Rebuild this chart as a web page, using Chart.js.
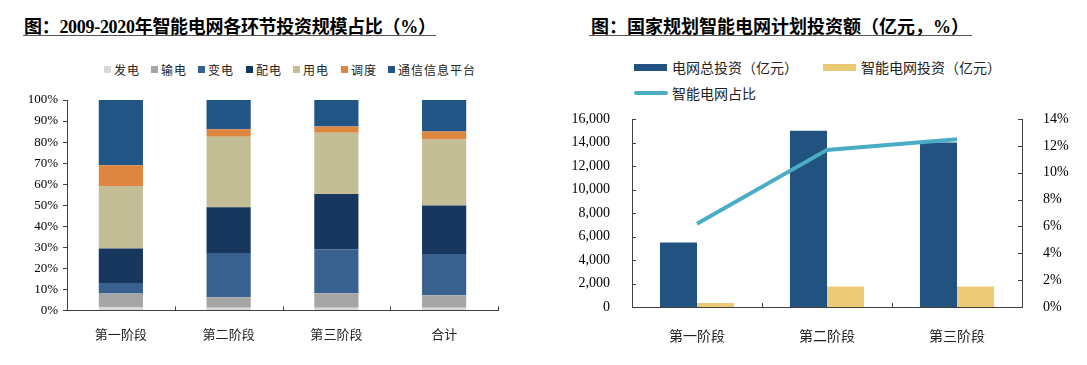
<!DOCTYPE html>
<html>
<head>
<meta charset="utf-8">
<script src="https://cdn.jsdelivr.net/npm/chart.js@4.4.1/dist/chart.umd.min.js"></script>
<style>
  html, body { margin: 0; padding: 0; background: #fff; }
  body { width: 1087px; height: 365px; position: relative; overflow: hidden; font-family: "Liberation Serif", "Noto Sans CJK SC", serif; }
  .title { position: absolute; font-size: 18px; font-weight: bold; color: #000; line-height: 16px; height: 16px; border-bottom: 1.5px solid #555; white-space: nowrap; font-family: "Liberation Serif", "Noto Sans CJK SC", serif; }
  .legend { position: absolute; font-family: "Noto Sans CJK SC", sans-serif; color: #222; white-space: nowrap; }
  .legend .item { position: absolute; display: flex; align-items: center; }
  .sw { display: inline-block; }
  canvas { position: absolute; }
</style>
</head>
<body>
<div class="title" id="t1" style="left:23px; top:19px; padding-left:1px; padding-right:0px; letter-spacing:-0.3px;">图：2009-2020年智能电网各环节投资规模占比（%）</div>
<div class="title" id="t2" style="left:589px; top:19px; padding-left:2px; padding-right:3px;">图：国家规划智能电网计划投资额（亿元，%）</div>
<div class="legend" id="leg1" style="left:0; top:61px; font-size:12px; letter-spacing:1px;"></div>
<div class="legend" id="leg2" style="left:0; top:0; font-size:14px;"></div>
<canvas id="c1" width="540" height="255" style="left:0; top:90px;"></canvas>
<canvas id="c2" width="527" height="240" style="left:560px; top:105px;"></canvas>
<script>
// ---------- Data: left chart ----------
const stageCategories = ['第一阶段', '第二阶段', '第三阶段', '合计'];
const segmentNames = ['发电', '输电', '变电', '配电', '用电', '调度', '通信信息平台'];
const genShare      = [1.6, 1.3, 1.3, 1.3];
const transShare    = [6.5, 5.0, 6.9, 6.0];
const substShare    = [5.0, 21.0, 20.9, 19.6];
const distShare     = [16.4, 21.8, 26.2, 23.0];
const consumeShare  = [29.7, 33.4, 29.1, 31.3];
const dispatchShare = [9.8, 3.6, 3.0, 3.8];
const commShare     = [31.0, 13.9, 12.6, 15.0];
const segmentColors = ['#D9D9D9', '#A6A6A6', '#386190', '#17375E', '#C4BE97', '#DE853F', '#215586'];
const pctTicks = [0, 10, 20, 30, 40, 50, 60, 70, 80, 90, 100];

// ---------- Data: right chart ----------
const phaseCategories = ['第一阶段', '第二阶段', '第三阶段'];
const gridInvest  = [5500, 15000, 14000];
const smartInvest = [341, 1750, 1750];
const smartRatio  = [6.2, 11.7, 12.5];
const seriesNames = ['电网总投资（亿元）', '智能电网投资（亿元）', '智能电网占比'];
const investTicks = [0, 2000, 4000, 6000, 8000, 10000, 12000, 14000, 16000];
const ratioTicks  = [0, 2, 4, 6, 8, 10, 12, 14];

// ---------- HTML legends ----------
(function () {
  const leg1 = document.getElementById('leg1');
  const starts = [104, 151, 198, 246, 293, 341, 388];
  segmentNames.forEach((n, i) => {
    const it = document.createElement('div');
    it.className = 'item';
    it.style.left = starts[i] + 'px';
    it.style.top = '0px';
    it.innerHTML = '<span class="sw" style="width:7px;height:7px;background:' + segmentColors[i] + ';margin-right:3px"></span><span>' + n + '</span>';
    leg1.appendChild(it);
  });
  const leg2 = document.getElementById('leg2');
  const pos = [[634, 57], [823, 57], [634, 83]];
  const sws = [
    '<span class="sw" style="width:33px;height:7px;background:#22527F;margin-right:5px"></span>',
    '<span class="sw" style="width:33px;height:7px;background:#EBCB76;margin-right:5px"></span>',
    '<span class="sw" style="width:34px;height:4px;border-radius:2px;background:#4BACC6;margin-right:4px"></span>'
  ];
  seriesNames.forEach((n, i) => {
    const it = document.createElement('div');
    it.className = 'item';
    it.style.left = pos[i][0] + 'px';
    it.style.top = pos[i][1] + 'px';
    it.innerHTML = sws[i] + '<span>' + n + '</span>';
    leg2.appendChild(it);
  });
})();

Chart.defaults.font.family = '"Liberation Serif", "Noto Sans CJK SC", serif';
Chart.defaults.color = '#000';
Chart.defaults.animation = false;

// Plugin drawing inward tick marks
const inwardTicks = {
  id: 'inwardTicks',
  afterDraw(chart, args, opts) {
    const ctx = chart.ctx;
    const ca = chart.chartArea;
    ctx.save();
    ctx.strokeStyle = opts.color || '#404040';
    ctx.lineWidth = 1;
    const len = opts.len || 4;
    (opts.axes || []).forEach(id => {
      const s = chart.scales[id];
      if (!s) return;
      ctx.beginPath();
      if (s.axis === 'x') {
        const n = s.ticks.length;
        for (let i = 0; i <= n; i++) {
          const x = Math.round(s.getPixelForValue(i - 0.5)) + 0.5;
          ctx.moveTo(x, ca.bottom);
          ctx.lineTo(x, ca.bottom - len);
        }
      } else {
        s.ticks.forEach(t => {
          const y = Math.round(s.getPixelForValue(t.value)) + 0.5;
          if (s.position === 'left') { ctx.moveTo(ca.left, y); ctx.lineTo(ca.left + len, y); }
          else { ctx.moveTo(ca.right, y); ctx.lineTo(ca.right - len, y); }
        });
      }
      ctx.stroke();
    });
    ctx.restore();
  }
};

function fixV(w) { return s => { s.width = w; s.paddingTop = 0; s.paddingBottom = 0; }; }
function fixH(h) { return s => { s.height = h; s.paddingLeft = 0; s.paddingRight = 0; }; }

// ---------- Left chart ----------
const leftSeries = [genShare, transShare, substShare, distShare, consumeShare, dispatchShare, commShare];
new Chart(document.getElementById('c1'), {
  type: 'bar',
  data: {
    labels: stageCategories,
    datasets: leftSeries.map((d, i) => ({
      label: segmentNames[i],
      data: d,
      backgroundColor: segmentColors[i],
      borderWidth: 0,
      categoryPercentage: 1,
      barPercentage: 0.41
    }))
  },
  options: {
    responsive: false,
    devicePixelRatio: 1,
    layout: { padding: { left: 0, right: 42, top: 10, bottom: 0 } },
    plugins: { legend: { display: false }, tooltip: { enabled: false },
      inwardTicks: { axes: ['x'], len: 4, color: '#404040' } },
    scales: {
      x: {
        stacked: true,
        grid: { display: false },
        border: { display: true, color: '#404040', width: 1 },
        ticks: { font: { size: 13, family: '"Noto Sans CJK SC", sans-serif' }, color: '#222', padding: 8 },
        afterFit: fixH(34.5)
      },
      y: {
        stacked: true,
        min: 0, max: 100,
        afterBuildTicks(s) { s.ticks = pctTicks.map(v => ({ value: v })); },
        grid: { drawOnChartArea: false, tickLength: 4, color: '#404040' },
        border: { display: true, color: '#404040', width: 1 },
        ticks: { font: { size: 13 }, color: '#000', padding: 5, callback: v => v + '%' },
        afterFit: fixV(67)
      }
    }
  },
  plugins: [inwardTicks]
});

// ---------- Right chart ----------
new Chart(document.getElementById('c2'), {
  type: 'bar',
  data: {
    labels: phaseCategories,
    datasets: [
      { type: 'line', label: seriesNames[2], data: smartRatio, yAxisID: 'y1', borderColor: '#4BACC6', backgroundColor: '#4BACC6', borderWidth: 4, pointRadius: 0, tension: 0, order: 0 },
      { label: seriesNames[0], data: gridInvest, yAxisID: 'y', backgroundColor: '#22527F', borderWidth: 0, categoryPercentage: 0.57, barPercentage: 1, order: 1 },
      { label: seriesNames[1], data: smartInvest, yAxisID: 'y', backgroundColor: '#EBCB76', borderWidth: 0, categoryPercentage: 0.57, barPercentage: 1, order: 1 }
    ]
  },
  options: {
    responsive: false,
    devicePixelRatio: 1,
    layout: { padding: { left: 0, right: 0, top: 14, bottom: 0 } },
    plugins: { legend: { display: false }, tooltip: { enabled: false },
      inwardTicks: { axes: ['x', 'y', 'y1'], len: 4, color: '#404040' } },
    scales: {
      x: {
        grid: { display: false },
        border: { display: true, color: '#404040', width: 1 },
        ticks: { font: { size: 14, family: '"Noto Sans CJK SC", sans-serif' }, color: '#222', padding: 12 },
        afterFit: fixH(38)
      },
      y: {
        position: 'left',
        min: 0, max: 16000,
        afterBuildTicks(s) { s.ticks = investTicks.map(v => ({ value: v })); },
        grid: { display: false },
        border: { display: true, color: '#404040', width: 1 },
        ticks: { font: { size: 14 }, color: '#000', padding: 14, callback: v => v.toLocaleString('en-US') },
        afterFit: fixV(72)
      },
      y1: {
        position: 'right',
        min: 0, max: 14,
        afterBuildTicks(s) { s.ticks = ratioTicks.map(v => ({ value: v })); },
        grid: { display: false },
        border: { display: true, color: '#404040', width: 1 },
        ticks: { font: { size: 14 }, color: '#000', padding: 13, callback: v => v + '%' },
        afterFit: fixV(65)
      }
    }
  },
  plugins: [inwardTicks]
});
</script>
</body>
</html>
